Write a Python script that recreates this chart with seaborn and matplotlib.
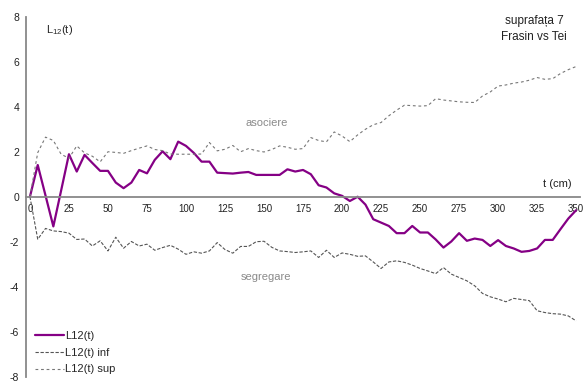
import pandas as pd
import matplotlib
matplotlib.use('Agg')
import matplotlib.pyplot as plt
import seaborn as sns

# distanta t (cm), pas de 5 cm
t = list(range(0, 355, 5))

# L12(t) observat
l12 = [0.0, 1.41, 0.05, -1.32, 0.28, 1.89, 1.12, 1.86, 1.5, 1.15,
       1.15, 0.63, 0.38, 0.63, 1.19, 1.04, 1.64, 2.02, 1.67, 2.45,
       2.26, 1.95, 1.56, 1.56, 1.07, 1.05, 1.03, 1.07, 1.1, 0.97,
       0.97, 0.97, 0.97, 1.22, 1.12, 1.19, 1.0, 0.51, 0.41, 0.15,
       0.04, -0.19, 0.0, -0.35, -1.0, -1.15, -1.3, -1.62, -1.62, -1.3,
       -1.59, -1.59, -1.9, -2.26, -1.99, -1.62, -1.96, -1.86, -1.92, -2.19,
       -1.93, -2.19, -2.3, -2.45, -2.41, -2.3, -1.92, -1.92, -1.44, -0.97,
       -0.6]

# infasuratoarea inferioara
l12_inf = [0.0, -1.89, -1.41, -1.52, -1.55, -1.62, -1.9, -1.88, -2.19, -1.96,
           -2.41, -1.8, -2.29, -1.99, -2.19, -2.11, -2.38, -2.26, -2.16, -2.33,
           -2.56, -2.45, -2.51, -2.41, -2.04, -2.35, -2.51, -2.21, -2.21, -2.0,
           -1.98, -2.25, -2.41, -2.44, -2.48, -2.45, -2.41, -2.7, -2.38, -2.7,
           -2.5, -2.56, -2.65, -2.63, -2.9, -3.19, -2.9, -2.85, -2.92, -3.04,
           -3.19, -3.3, -3.42, -3.15, -3.44, -3.59, -3.74, -3.96, -4.3, -4.45,
           -4.55, -4.67, -4.52, -4.57, -4.62, -5.07, -5.15, -5.2, -5.22, -5.3,
           -5.52]

# infasuratoarea superioara
l12_sup = [0.0, 1.96, 2.65, 2.5, 1.89, 1.71, 2.26, 1.95, 1.8, 1.55,
           2.0, 1.97, 1.93, 2.05, 2.16, 2.26, 2.1, 2.05, 1.9, 1.89,
           1.89, 1.89, 1.9, 2.41, 2.04, 2.11, 2.28, 2.0, 2.14, 2.05,
           1.99, 2.1, 2.26, 2.2, 2.11, 2.14, 2.63, 2.5, 2.44, 2.88,
           2.7, 2.45, 2.75, 3.0, 3.2, 3.3, 3.6, 3.85, 4.07, 4.05,
           4.03, 4.05, 4.36, 4.3, 4.26, 4.22, 4.2, 4.19, 4.48, 4.66,
           4.92, 4.97, 5.05, 5.1, 5.18, 5.3, 5.22, 5.25, 5.48, 5.65,
           5.79]

x_labels = list(range(0, 351, 25))
y_ticks = list(range(-8, 9, 2))

df = pd.DataFrame({'t': t, 'L12(t)': l12, 'L12(t) inf': l12_inf, 'L12(t) sup': l12_sup})

sns.set_style('white')
plt.rcParams['font.family'] = ['Liberation Sans', 'DejaVu Sans']
plt.rcParams['mathtext.default'] = 'regular'

fig = plt.figure(figsize=(5.85, 3.82), dpi=100)
ax = fig.add_axes([0.0445, 0.014, 0.947, 0.942])

sns.lineplot(data=df, x='t', y='L12(t)', color='#850085', lw=1.6, label='L12(t)', ax=ax)
sns.lineplot(data=df, x='t', y='L12(t) inf', color='#555555', lw=0.8,
             linestyle=(0, (3, 1.5)), label='L12(t) inf', ax=ax)
sns.lineplot(data=df, x='t', y='L12(t) sup', color='#777777', lw=0.8,
             linestyle=(0, (2.5, 2.5)), label='L12(t) sup', ax=ax)

ax.set_xlim(-2.5, 352.5)
ax.set_ylim(-8, 8)
ax.set_xlabel('')
ax.set_ylabel('')

for s in ['top', 'right']:
    ax.spines[s].set_visible(False)
ax.spines['bottom'].set_position(('data', 0))
for s in ['left', 'bottom']:
    ax.spines[s].set_color('#888888')
    ax.spines[s].set_linewidth(1.3)

# axa de categorii: marcaje intre categorii, etichete pe categorii
ax.set_xticks([v - 2.5 for v in x_labels])
ax.set_xticklabels([])
ax.set_xticks(x_labels, minor=True)
ax.set_xticklabels([str(v) for v in x_labels], minor=True)
ax.tick_params(axis='x', which='major', direction='out', length=3, width=1, color='#888888')
ax.tick_params(axis='x', which='minor', length=0, pad=5, labelsize=7, labelcolor='#222222')
ax.set_yticks(y_ticks)
ax.set_yticklabels([str(v) for v in y_ticks])
ax.tick_params(axis='y', direction='out', length=3, width=1, color='#888888',
               pad=2, labelsize=7.5, labelcolor='#222222')

ax.text(10, 7.4, r'$L_{12}(t)$', fontsize=8, ha='left', va='center')
ax.text(323, 7.8, 'suprafața 7', fontsize=8.5, ha='center', va='center', color='#222222')
ax.text(323, 7.1, 'Frasin vs Tei', fontsize=8.5, ha='center', va='center', color='#222222')
ax.text(347, 0.55, 't (cm)', fontsize=8, ha='right', va='center', color='#222222')
ax.text(152, 3.3, 'asociere', fontsize=8, ha='center', va='center', color='#8a8a8a')
ax.text(151, -3.58, 'segregare', fontsize=8, ha='center', va='center', color='#8a8a8a')

ax.legend(loc='lower left', bbox_to_anchor=(0.012, 0.0), frameon=False, fontsize=8,
          handlelength=2.6, handletextpad=0.15, labelspacing=0.6, borderpad=0.2,
          borderaxespad=0)

plt.savefig('out.png', dpi=100)
